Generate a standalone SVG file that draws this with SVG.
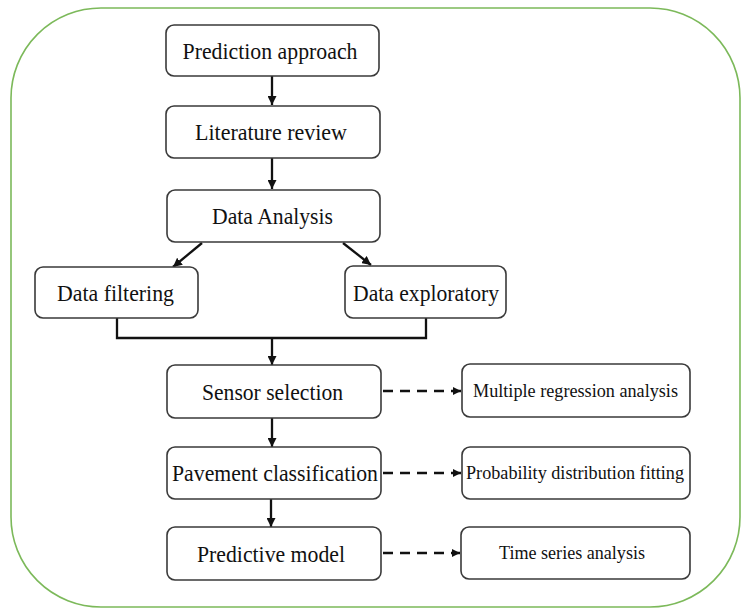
<svg xmlns="http://www.w3.org/2000/svg" width="741" height="610" viewBox="0 0 741 610">
<defs>
<style>
.box{fill:#fff;stroke:#3a3a3a;stroke-width:1.6}
.t{font-family:"Liberation Serif","Times New Roman",serif;font-size:24px;fill:#111;text-anchor:middle}
.s{font-family:"Liberation Serif","Times New Roman",serif;font-size:18px;fill:#111;text-anchor:middle}
.ln{fill:none;stroke:#111;stroke-width:2.3}
.ds{fill:none;stroke:#111;stroke-width:2.5;stroke-dasharray:10 7}
</style>
<marker id="ah" viewBox="0 0 10 10" refX="10" refY="5" markerWidth="9" markerHeight="9" markerUnits="userSpaceOnUse" orient="auto">
<path d="M0,0 L10,5 L0,10 z" fill="#111"/>
</marker>
<marker id="ahs" viewBox="0 0 10 10" refX="10" refY="5" markerWidth="8" markerHeight="8" markerUnits="userSpaceOnUse" orient="auto">
<path d="M0,0 L10,5 L0,10 z" fill="#111"/>
</marker>
</defs>
<rect x="11" y="8" width="729" height="599" rx="90" ry="90" fill="#fff" stroke="#7cb95a" stroke-width="1.6"/>
<g id="connectors">
<line class="ln" x1="272" y1="76" x2="272" y2="105" marker-end="url(#ah)"/>
<line class="ln" x1="272" y1="158" x2="272" y2="189" marker-end="url(#ah)"/>
<line class="ln" x1="202" y1="243" x2="173" y2="267" marker-end="url(#ah)"/>
<line class="ln" x1="343" y1="243" x2="371" y2="265" marker-end="url(#ah)"/>
<polyline class="ln" points="117,318 117,338 426,338 426,318"/>
<line class="ln" x1="272" y1="338" x2="272" y2="365" marker-end="url(#ah)"/>
<line class="ln" x1="272" y1="418" x2="272" y2="447" marker-end="url(#ah)"/>
<line class="ln" x1="271" y1="499" x2="271" y2="527" marker-end="url(#ah)"/>
<line class="ds" x1="383" y1="391" x2="461" y2="391" marker-end="url(#ahs)"/>
<line class="ds" x1="383" y1="473" x2="461" y2="473" marker-end="url(#ahs)"/>
<line class="ds" x1="383" y1="553" x2="460" y2="553" marker-end="url(#ahs)"/>
</g>
<g id="prediction-approach"><rect class="box" x="166" y="25" width="213" height="51" rx="8"/><text class="t" x="270" y="58.5" textLength="175" lengthAdjust="spacingAndGlyphs">Prediction approach</text></g>
<g id="literature-review"><rect class="box" x="166" y="106" width="214" height="52" rx="8"/><text class="t" x="271" y="140" textLength="152" lengthAdjust="spacingAndGlyphs">Literature review</text></g>
<g id="data-analysis"><rect class="box" x="167" y="190" width="213" height="52" rx="8"/><text class="t" x="272.5" y="224" textLength="121" lengthAdjust="spacingAndGlyphs">Data Analysis</text></g>
<g id="data-filtering"><rect class="box" x="35" y="267" width="163" height="51" rx="8"/><text class="t" x="115.5" y="301" textLength="117" lengthAdjust="spacingAndGlyphs">Data filtering</text></g>
<g id="data-exploratory"><rect class="box" x="345" y="266" width="161" height="52" rx="8"/><text class="t" x="426" y="300.5" textLength="146" lengthAdjust="spacingAndGlyphs">Data exploratory</text></g>
<g id="sensor-selection"><rect class="box" x="167" y="365" width="214" height="53" rx="8"/><text class="t" x="272.5" y="399.5" textLength="141" lengthAdjust="spacingAndGlyphs">Sensor selection</text></g>
<g id="pavement-classification"><rect class="box" x="167" y="447" width="214" height="52" rx="8"/><text class="t" x="275" y="481" textLength="206" lengthAdjust="spacingAndGlyphs">Pavement classification</text></g>
<g id="predictive-model"><rect class="box" x="167" y="527" width="214" height="53" rx="8"/><text class="t" x="271" y="561.5" textLength="148" lengthAdjust="spacingAndGlyphs">Predictive model</text></g>
<g id="multiple-regression"><rect class="box" x="462" y="364" width="228" height="53" rx="8"/><text class="s" x="575.5" y="396.5" textLength="205" lengthAdjust="spacingAndGlyphs">Multiple regression analysis</text></g>
<g id="probability-fitting"><rect class="box" x="462" y="447" width="228" height="52" rx="8"/><text class="s" x="575" y="479" textLength="218" lengthAdjust="spacingAndGlyphs">Probability distribution fitting</text></g>
<g id="time-series"><rect class="box" x="461" y="527" width="229" height="52" rx="8"/><text class="s" x="572" y="559" textLength="146" lengthAdjust="spacingAndGlyphs">Time series analysis</text></g>
</svg>
